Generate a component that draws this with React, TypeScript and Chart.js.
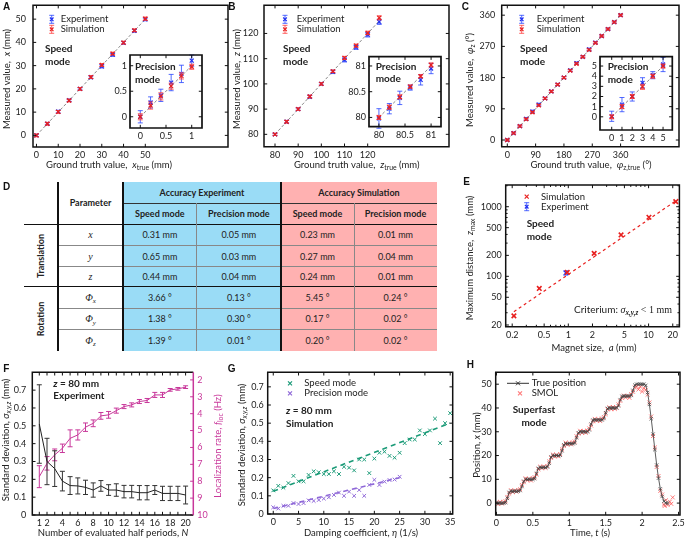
import React, { useEffect, useRef } from 'react';
import { Chart, registerables } from 'chart.js';

Chart.register(...registerables);

const PW = 685;
const PH = 539;
const SANS = 'Lato, "Open Sans", sans-serif';
const SERIF = '"Liberation Serif", "DejaVu Serif", serif';
const LETTER_FONT = '"Liberation Sans", Arial, sans-serif';

// ---------------- colours ----------------
const BLUE = '#1f2ff0';
const BLUE_BAR = 'rgba(40,70,255,0.8)';
const RED = '#e8201f';
const RED_BAR = 'rgba(255,60,60,0.8)';
const GREY = '#8a8a8a';
const MAG = '#c8379a';
const TEAL = '#1b9b78';
const PURP = '#8f68d8';
const SMOLC = 'rgba(255,80,80,0.75)';

// ---------------- data: panel A ----------------
const aTruth = [0, 5, 10, 15, 20, 25, 30, 35, 40, 45, 50];
const aExp = [0.0, 5.0, 10.2, 15.1, 20.0, 25.0, 29.7, 34.7, 39.8, 45.0, 49.9];
const aExpErr = [0.5, 0.5, 0.6, 0.5, 0.5, 0.6, 0.7, 0.7, 0.6, 0.6, 0.6];
const aSim = [0.0, 5.0, 10.1, 15.0, 20.0, 25.1, 30.3, 35.2, 39.9, 45.2, 50.2];
const aSimErr = [0.6, 0.6, 0.6, 0.6, 0.6, 0.6, 0.6, 0.6, 0.6, 0.6, 0.7];
const aRef = [0, 50];
const aTicks = [0, 10, 20, 30, 40, 50];
const aInTruth = [0, 0.2, 0.4, 0.6, 0.8, 1.0];
const aInExp = [0.0, 0.28, 0.42, 0.67, 0.84, 1.1];
const aInExpErr = [0.12, 0.11, 0.12, 0.16, 0.17, 0.11];
const aInSim = [0.0, 0.22, 0.4, 0.6, 0.8, 0.98];
const aInSimErr = [0.06, 0.07, 0.07, 0.06, 0.06, 0.05];
const aInRef = [0, 1];
const aInTicks = [0, 0.5, 1];

// ---------------- data: panel B ----------------
const bTruth = [80, 85, 90, 95, 100, 105, 110, 115, 120, 125];
const bExp = [80, 85, 90, 94.9, 100, 104.8, 109.5, 114.5, 119.5, 124.6];
const bExpErr = [0.4, 0.5, 0.5, 0.6, 0.5, 0.7, 0.8, 0.8, 0.9, 1.0];
const bSim = [80, 85, 90, 95, 100, 105, 110.3, 115.2, 120.2, 126.2];
const bSimErr = [0.4, 0.5, 0.5, 0.5, 0.5, 0.5, 0.6, 0.6, 0.7, 0.8];
const bRef = [80, 125];
const bTicks = [80, 90, 100, 110, 120];
const bInTruth = [80, 80.2, 80.4, 80.6, 80.8, 81];
const bInExp = [79.98, 80.17, 80.38, 80.58, 80.73, 80.95];
const bInExpErr = [0.19, 0.1, 0.13, 0.05, 0.1, 0.1];
const bInSim = [80.0, 80.2, 80.4, 80.6, 80.8, 81.02];
const bInSimErr = [0.04, 0.04, 0.04, 0.03, 0.03, 0.04];
const bInRef = [80, 81];
const bInTicks = [80, 80.5, 81];

// ---------------- data: panel C ----------------
const cTruth = [0, 20, 40, 60, 80, 100, 120, 140, 160, 180, 200, 220, 240, 260, 280, 300, 320, 340, 360];
const cExp = [0, 20, 40, 61, 82, 102, 120, 140, 160, 180, 201, 222, 240, 261, 281, 300, 320, 340, 360];
const cExpErr = [3, 3, 3, 4, 4, 4, 3, 3, 3, 3, 3, 3, 3, 4, 3, 3, 3, 3, 3];
const cSim = [0, 20, 40, 60, 80, 100, 120, 140, 160, 180, 200, 220, 240, 260, 280, 300, 320, 340, 360];
const cSimErr = [2.5, 2.5, 2.5, 2.5, 2.5, 2.5, 2.5, 2.5, 2.5, 2.5, 2.5, 2.5, 2.5, 2.5, 2.5, 2.5, 2.5, 2.5, 2.5];
const cRef = [0, 360];
const cTicks = [0, 90, 180, 270, 360];
const cInTruth = [0, 1, 2, 3, 4, 5];
const cInExp = [0.05, 1.2, 2.0, 3.35, 4.1, 5.15];
const cInExpErr = [0.5, 0.7, 0.45, 0.5, 0.35, 0.7];
const cInSim = [0, 1, 2, 2.95, 4.0, 5.0];
const cInSimErr = [0.2, 0.2, 0.2, 0.25, 0.2, 0.2];
const cInRef = [0, 5];
const cInTicks = [0, 1, 2, 3, 4, 5];

// ---------------- data: panel D (table) ----------------
const paramSym = ['x', 'y', 'z', 'Φ', 'Φ', 'Φ'];
const paramSub = ['', '', '', 'x', 'y', 'z'];
const expSpeed = ['0.31 mm', '0.65 mm', '0.44 mm', '3.66 °', '1.38 °', '1.39 °'];
const expPrec = ['0.05 mm', '0.03 mm', '0.04 mm', '0.13 °', '0.30 °', '0.01 °'];
const simSpeed = ['0.23 mm', '0.27 mm', '0.24 mm', '5.45 °', '0.17 °', '0.20 °'];
const simPrec = ['0.01 mm', '0.04 mm', '0.01 mm', '0.24 °', '0.02 °', '0.02 °'];

// ---------------- data: panel E ----------------
const eSize = [0.21, 0.435, 0.97, 2.1, 4.54, 10.1, 21.8];
const eZmax = [27, 67, 114, 214, 393, 705, 1183];
const eExpSize = [0.93];
const eExpZ = [112];
const eExpErr = [8];
const eFitX = [0.21, 23.4];
const eFitY = [31, 1283];
const eXTicks = [0.2, 0.5, 1, 2, 5, 10, 20];
const eYTicks = [20, 50, 100, 200, 500, 1000];
const eXMinor = [0.3, 0.4, 0.6, 0.7, 0.8, 0.9, 3, 4, 6, 7, 8, 9];
const eYMinor = [30, 40, 60, 70, 80, 90, 300, 400, 600, 700, 800, 900, 2000];

// ---------------- data: panel F ----------------
const fN = [1, 2, 3, 4, 5, 6, 7, 8, 9, 10, 11, 12, 13, 14, 15, 16, 17, 18, 19, 20];
const fStd = [0.51, 0.3, 0.26, 0.19, 0.165, 0.163, 0.155, 0.14, 0.163, 0.14, 0.14, 0.131, 0.131, 0.125, 0.125, 0.14, 0.121, 0.121, 0.121, 0.112];
const fStdErr = [0.22, 0.13, 0.1, 0.055, 0.05, 0.045, 0.04, 0.04, 0.03, 0.03, 0.035, 0.035, 0.035, 0.04, 0.04, 0.025, 0.04, 0.04, 0.04, 0.05];
const fRate = [7.73, 6.94, 6.44, 6.05, 5.46, 5.26, 4.8, 4.57, 4.13, 4.07, 3.82, 3.58, 3.48, 3.28, 3.22, 2.89, 2.89, 2.59, 2.53, 2.43];
const fRateErr = [0.65, 0.4, 0.35, 0.25, 0.5, 0.3, 0.25, 0.2, 0.2, 0.2, 0.15, 0.12, 0.12, 0.12, 0.12, 0.15, 0.15, 0.08, 0.08, 0.08];
const fXTicks = [1, 2, 3, 4, 5, 6, 7, 8, 9, 10, 11, 12, 13, 14, 15, 16, 17, 18, 19, 20];
const fXLabels = ['1', '2', '', '4', '', '6', '', '8', '', '10', '', '12', '', '14', '', '16', '', '18', '', '20'];
const fYTicks = [0, 0.1, 0.2, 0.3, 0.4, 0.5, 0.6, 0.7];
const fY2Ticks = [2, 3, 4, 5, 6, 7, 8, 9, 10];

// ---------------- data: panel G ----------------
const gEta = [0, 1, 2, 3, 4, 5, 6, 7, 8, 9, 10, 11, 12, 13, 14, 15, 16, 17, 18, 19, 20, 21, 22, 23, 24, 25, 26, 27, 28, 29, 30, 31, 32, 33, 34, 35];
const gSpeed = [0.13, 0.155, 0.145, 0.17, 0.21, 0.18, 0.18, 0.215, 0.235, 0.23, 0.22, 0.22, 0.235, 0.22, 0.26, 0.255, 0.24, 0.3, 0.3, 0.225, 0.305, 0.337, 0.343, 0.32, 0.31, 0.337, 0.39, 0.41, 0.41, 0.46, 0.44, 0.46, 0.525, 0.39, 0.5, 0.555];
const gPrecEta = [0, 1, 2, 3, 4, 5, 6, 7, 8, 9, 10, 11, 12, 13, 14, 15, 16, 17, 18, 19, 20, 21, 22, 23, 24, 25];
const gPrec = [0.037, 0.03, 0.045, 0.045, 0.06, 0.055, 0.06, 0.075, 0.072, 0.077, 0.085, 0.092, 0.105, 0.118, 0.1, 0.123, 0.1, 0.132, 0.1, 0.16, 0.188, 0.16, 0.178, 0.187, 0.19, 0.205];
const gSpeedFitX = [0, 35];
const gSpeedFit = [0.125, 0.5];
const gPrecFitX = [0, 25];
const gPrecFit = [0.03, 0.2];
const gXTicks = [0, 5, 10, 15, 20, 25, 30, 35];
const gYTicks = [0, 0.1, 0.2, 0.3, 0.4, 0.5, 0.6, 0.7];

// ---------------- data: panel H ----------------
const hT = [0, 0.025, 0.05, 0.075, 0.1, 0.125, 0.15, 0.175, 0.2, 0.225, 0.25, 0.275, 0.3, 0.325, 0.35, 0.375, 0.4, 0.425, 0.45, 0.475, 0.5, 0.525, 0.55, 0.575, 0.6, 0.625, 0.65, 0.675, 0.7, 0.725, 0.75, 0.775, 0.8, 0.825, 0.85, 0.875, 0.9, 0.925, 0.95, 0.975, 1, 1.025, 1.05, 1.075, 1.1, 1.125, 1.15, 1.175, 1.2, 1.225, 1.25, 1.275, 1.3, 1.325, 1.35, 1.375, 1.4, 1.425, 1.45, 1.475, 1.5, 1.525, 1.55, 1.575, 1.6, 1.625, 1.65, 1.675, 1.7, 1.725, 1.75, 1.775, 1.8, 1.825, 1.85, 1.875, 1.9, 1.925, 1.95, 1.975, 2, 2.025, 2.05, 2.075, 2.1, 2.125, 2.15, 2.175, 2.2, 2.225, 2.25, 2.275, 2.3, 2.325, 2.35];
const hTrue = [0, 0, 0, 0, 0, 0.2, 2.0, 4.5, 5, 5, 5, 5, 5, 5.3, 7.0, 9.2, 10, 10, 10, 10, 10, 10.3, 12.5, 14.6, 15, 15, 15, 15, 15.2, 16.8, 19.4, 20, 20, 20, 20, 20.1, 22.0, 24.5, 25, 25, 25, 25, 25, 25.3, 27.5, 29.6, 30, 30, 30, 30, 30, 30.8, 33.2, 34.9, 35, 35, 35, 35, 35, 35.6, 38.0, 39.8, 40, 40, 40, 40, 40, 40.9, 43.5, 44.9, 45, 45, 45, 45, 45.3, 47.4, 49.6, 50, 50, 50, 50, 50, 49.5, 46.5, 41.5, 35.5, 29.0, 22.5, 16.0, 10.5, 6.0, 2.8, 0.8, 0.1, 0];
const hSmol = [0.3, -0.4, 0.5, -0.2, 0.4, 0.8, 2.6, 4.0, 5.4, 4.6, 5.3, 4.8, 5.5, 5.8, 7.6, 8.8, 10.4, 9.6, 10.2, 9.5, 10.5, 10.9, 12.0, 14.2, 15.3, 14.7, 15.4, 14.8, 15.6, 17.5, 19.0, 20.4, 19.6, 20.3, 19.7, 20.6, 22.6, 24.0, 25.4, 24.6, 25.3, 24.7, 25.5, 25.9, 28.1, 29.2, 30.4, 29.5, 30.3, 29.6, 30.5, 31.4, 32.6, 34.4, 35.4, 34.6, 35.3, 34.5, 35.5, 36.2, 37.4, 39.4, 40.3, 39.5, 40.4, 39.6, 40.2, 41.5, 43.0, 44.3, 45.2, 44.4, 45.1, 44.3, 45.8, 46.8, 48.6, 49.2, 47.8, 48.9, 46.9, 48.3, 47.6, 45.6, 42.3, 36.4, 28.2, 23.4, 15.2, 11.4, 5.2, 3.6, -0.6, 1.2, -0.8];
const hSmolExtraT = [2.31, 2.38, 2.4, 2.42];
const hSmolExtraX = [-1.2, 0.6, -0.3, 2.4];
const hXTicks = [0, 0.5, 1, 1.5, 2, 2.5];
const hYTicks = [0, 10, 20, 30, 40, 50];

// ---------------- helpers ----------------
type Seg = { t: string; i?: boolean; b?: boolean; sub?: boolean; f?: string };
type TextItem = {
  x: number; y: number; segs: Seg[]; size?: number; bold?: boolean;
  align?: 'left' | 'center' | 'right'; rot?: boolean; color?: string;
};
type Sym = { kind: 'err' | 'cross' | 'linecross'; x: number; y: number; color: string; bar?: string };
type AxisSpec = {
  min: number; max: number; ticks: number[]; log?: boolean; labels?: string[];
  color?: string; reverse?: boolean; pad?: number;
};
type PanelSpec = {
  L: number; T: number; R: number; B: number;
  x: AxisSpec; y: AxisSpec; y2?: AxisSpec;
  datasets: any[]; texts?: TextItem[]; syms?: Sym[];
  fill?: boolean; frameW?: number; xMinor?: number[]; yMinor?: number[]; tickLen?: number;
};

const pts = (xs: number[], ys: number[]) => xs.map((x, i) => ({ x, y: ys[i] }));
const T = (t: string, o: Partial<Seg> = {}): Seg => ({ t, ...o });

function segFont(s: Seg, it: TextItem) {
  const base = it.size ?? 9.5;
  const size = s.sub ? base * 0.72 : base;
  return `${s.i ? 'italic ' : ''}${s.b || it.bold ? 'bold ' : ''}${size}px ${s.f ?? SANS}`;
}

function drawRich(ctx: CanvasRenderingContext2D, it: TextItem) {
  ctx.save();
  ctx.translate(it.x, it.y);
  if (it.rot) ctx.rotate(-Math.PI / 2);
  ctx.textBaseline = 'middle';
  ctx.textAlign = 'left';
  ctx.fillStyle = it.color ?? '#222';
  const base = it.size ?? 9.5;
  const widths = it.segs.map((s) => {
    ctx.font = segFont(s, it);
    return ctx.measureText(s.t).width;
  });
  const total = widths.reduce((a, b) => a + b, 0);
  let cx = it.align === 'center' ? -total / 2 : it.align === 'right' ? -total : 0;
  it.segs.forEach((s, k) => {
    ctx.font = segFont(s, it);
    ctx.fillText(s.t, cx, s.sub ? base * 0.32 : 0);
    cx += widths[k];
  });
  ctx.restore();
}

function crossAt(ctx: CanvasRenderingContext2D, x: number, y: number, r: number, color: string, lw = 1) {
  ctx.strokeStyle = color;
  ctx.lineWidth = lw;
  ctx.beginPath();
  ctx.moveTo(x - r, y - r); ctx.lineTo(x + r, y + r);
  ctx.moveTo(x - r, y + r); ctx.lineTo(x + r, y - r);
  ctx.stroke();
}

function drawSym(ctx: CanvasRenderingContext2D, s: Sym) {
  ctx.save();
  if (s.kind === 'err') {
    ctx.strokeStyle = s.bar ?? s.color;
    ctx.lineWidth = 1;
    ctx.beginPath();
    ctx.moveTo(s.x, s.y - 4); ctx.lineTo(s.x, s.y + 4);
    ctx.moveTo(s.x - 2.5, s.y - 4); ctx.lineTo(s.x + 2.5, s.y - 4);
    ctx.moveTo(s.x - 2.5, s.y + 4); ctx.lineTo(s.x + 2.5, s.y + 4);
    ctx.stroke();
    crossAt(ctx, s.x, s.y, 1.8, s.color, 1.2);
  } else if (s.kind === 'cross') {
    crossAt(ctx, s.x, s.y, 2, s.color, 1.2);
  } else {
    ctx.strokeStyle = s.color;
    ctx.lineWidth = 1;
    ctx.beginPath();
    ctx.moveTo(s.x - 11, s.y); ctx.lineTo(s.x + 11, s.y);
    ctx.stroke();
    crossAt(ctx, s.x, s.y, 2, s.color, 1);
  }
  ctx.restore();
}

const errPlugin = {
  id: 'errbars',
  beforeDatasetDraw(chart: any, args: any) {
    const ds: any = chart.data.datasets[args.index];
    if (!ds.err) return;
    const meta = args.meta;
    const ys = chart.scales[meta.yAxisID];
    const ctx: CanvasRenderingContext2D = chart.ctx;
    ctx.save();
    ctx.strokeStyle = ds.errColor ?? ds.borderColor;
    ctx.lineWidth = ds.errWidth ?? 1;
    const cap = ds.errCap ?? 2.5;
    meta.data.forEach((el: any, i: number) => {
      const raw = ds.data[i];
      const e = ds.err[i];
      const y1 = ys.getPixelForValue(raw.y - e);
      const y2 = ys.getPixelForValue(raw.y + e);
      const x = el.x;
      ctx.beginPath();
      ctx.moveTo(x, y1); ctx.lineTo(x, y2);
      ctx.moveTo(x - cap, y1); ctx.lineTo(x + cap, y1);
      ctx.moveTo(x - cap, y2); ctx.lineTo(x + cap, y2);
      ctx.stroke();
    });
    ctx.restore();
  },
};

function framePlugin(p: PanelSpec) {
  return {
    id: 'frame',
    beforeDatasetsDraw(chart: any) {
      if (!p.fill) return;
      const a = chart.chartArea;
      const ctx: CanvasRenderingContext2D = chart.ctx;
      ctx.save();
      ctx.fillStyle = '#fff';
      ctx.fillRect(a.left, a.top, a.right - a.left, a.bottom - a.top);
      ctx.restore();
    },
    afterDraw(chart: any) {
      const ctx: CanvasRenderingContext2D = chart.ctx;
      const a = chart.chartArea;
      const tl = p.tickLen ?? 3.2;
      const seg = (x1: number, y1: number, x2: number, y2: number) => {
        ctx.beginPath(); ctx.moveTo(x1, y1); ctx.lineTo(x2, y2); ctx.stroke();
      };
      ctx.save();
      ctx.lineWidth = 1;
      ctx.strokeStyle = '#111';
      const xs = chart.scales.x;
      const ys = chart.scales.y;
      const xt: [number, number][] = [
        ...p.x.ticks.map((v) => [v, tl] as [number, number]),
        ...(p.xMinor ?? []).map((v) => [v, tl * 0.6] as [number, number]),
      ];
      xt.forEach(([v, len]) => {
        const px = xs.getPixelForValue(v);
        if (px < a.left - 0.5 || px > a.right + 0.5) return;
        seg(px, a.bottom, px, a.bottom - len);
        seg(px, a.top, px, a.top + len);
      });
      const yt: [number, number][] = [
        ...p.y.ticks.map((v) => [v, tl] as [number, number]),
        ...(p.yMinor ?? []).map((v) => [v, tl * 0.6] as [number, number]),
      ];
      yt.forEach(([v, len]) => {
        const py = ys.getPixelForValue(v);
        if (py < a.top - 0.5 || py > a.bottom + 0.5) return;
        seg(a.left, py, a.left + len, py);
        if (!p.y2) seg(a.right, py, a.right - len, py);
      });
      if (p.y2) {
        const y2s = chart.scales.y2;
        ctx.strokeStyle = p.y2.color ?? '#111';
        p.y2.ticks.forEach((v) => {
          const py = y2s.getPixelForValue(v);
          if (py < a.top - 0.5 || py > a.bottom + 0.5) return;
          seg(a.right, py, a.right - tl, py);
        });
      }
      ctx.lineWidth = p.frameW ?? 1.5;
      ctx.strokeStyle = '#111';
      ctx.beginPath();
      ctx.moveTo(a.right, a.top);
      ctx.lineTo(a.left, a.top);
      ctx.lineTo(a.left, a.bottom);
      ctx.lineTo(a.right, a.bottom);
      if (!p.y2) ctx.closePath();
      ctx.stroke();
      if (p.y2) {
        ctx.strokeStyle = p.y2.color ?? '#111';
        seg(a.right, a.top, a.right, a.bottom);
      }
      ctx.restore();
    },
  };
}

function textPlugin(p: PanelSpec) {
  return {
    id: 'texts',
    afterDraw(chart: any) {
      const ctx: CanvasRenderingContext2D = chart.ctx;
      (p.texts ?? []).forEach((it) => drawRich(ctx, it));
      (p.syms ?? []).forEach((s) => drawSym(ctx, s));
    },
  };
}

function axisCfg(a: AxisSpec, pos: 'bottom' | 'left' | 'right', fit: number) {
  const horiz = pos === 'bottom';
  return {
    type: a.log ? 'logarithmic' : 'linear',
    position: pos,
    min: a.min,
    max: a.max,
    reverse: !!a.reverse,
    bounds: 'data',
    grid: { display: false, drawTicks: false },
    border: { display: false },
    ticks: {
      autoSkip: false,
      maxRotation: 0,
      minRotation: 0,
      padding: a.pad ?? (horiz ? 2.5 : 5),
      color: a.color ?? '#222',
      font: { family: SANS, size: 9 },
      callback: (v: number, i: number) => (a.labels ? a.labels[i] : String(v)),
    },
    afterBuildTicks: (s: any) => {
      s.ticks = a.ticks.map((v) => ({ value: v }));
    },
    afterFit: (s: any) => {
      if (horiz) s.height = fit;
      else s.width = fit;
      s.paddingLeft = 0;
      s.paddingRight = 0;
      s.paddingTop = 0;
      s.paddingBottom = 0;
    },
  };
}

function buildChart(canvas: HTMLCanvasElement, p: PanelSpec) {
  // axis boxes must hold the tick labels (Chart.js clips labels to the axis box)
  const XH = Math.min(18, PH - p.B);
  const YW = Math.min(40, p.L);
  const RW = p.y2 ? 22 : 0;
  const scales: any = { x: axisCfg(p.x, 'bottom', XH), y: axisCfg(p.y, 'left', YW) };
  if (p.y2) scales.y2 = axisCfg(p.y2, 'right', RW);
  return new Chart(canvas, {
    type: 'scatter',
    data: { datasets: p.datasets },
    options: {
      responsive: false,
      animation: false,
      devicePixelRatio: 1,
      events: [],
      layout: { padding: { left: p.L - YW, top: p.T, right: PW - p.R - RW, bottom: PH - p.B - XH } },
      plugins: { legend: { display: false }, tooltip: { enabled: false } },
      scales,
    } as any,
    plugins: [errPlugin, framePlugin(p), textPlugin(p)] as any,
  });
}

// dataset builders
const markDs = (data: any[], color: string, bar: string | null, err: number[] | null, r = 2.8, extra: any = {}) => ({
  data,
  showLine: false,
  borderColor: color,
  backgroundColor: color,
  pointStyle: 'crossRot',
  pointRadius: r,
  pointBorderWidth: 1.2,
  pointBorderColor: color,
  err,
  errColor: bar ?? color,
  ...extra,
});
const lineDs = (data: any[], color: string, dash: number[], w = 1, extra: any = {}) => ({
  data,
  showLine: true,
  borderColor: color,
  borderWidth: w,
  borderDash: dash,
  pointRadius: 0,
  ...extra,
});

const legendTexts = (x: number, y1: number, y2: number, t1: string, t2: string): TextItem[] => [
  { x, y: y1, segs: [T(t1)] },
  { x, y: y2, segs: [T(t2)] },
];

// ---------------- panel specs ----------------
const panelA: PanelSpec = {
  L: 33, T: 5, R: 228, B: 147,
  x: { min: -1.6, max: 88, ticks: aTicks },
  y: { min: -5, max: 56, ticks: aTicks, pad: 7 },
  datasets: [
    markDs(pts(aTruth, aSim), RED, RED_BAR, aSimErr),
    markDs(pts(aTruth, aExp), BLUE, BLUE_BAR, aExpErr),
    lineDs(pts(aRef, aRef), GREY, [3, 2]),
  ],
  texts: [
    { x: 109, y: 165, align: 'center', segs: [T('Ground truth value,  '), T('x', { i: true }), T('true', { sub: true }), T(' (mm)')] },
    { x: 7, y: 79, rot: true, align: 'center', segs: [T('Measured value,  '), T('x', { i: true }), T(' (mm)')] },
    ...legendTexts(60.7, 19.3, 29.3, 'Experiment', 'Simulation'),
    { x: 45, y: 49, bold: true, size: 10, segs: [T('Speed')] },
    { x: 45, y: 62, bold: true, size: 10, segs: [T('mode')] },
  ],
  syms: [
    { kind: 'err', x: 51.7, y: 19.3, color: BLUE, bar: BLUE_BAR },
    { kind: 'err', x: 51.7, y: 29.3, color: RED, bar: RED_BAR },
  ],
};

const panelAi: PanelSpec = {
  L: 130, T: 55, R: 202, B: 128, fill: true, frameW: 1.7,
  x: { min: -0.2, max: 1.2, ticks: aInTicks },
  y: { min: -0.22, max: 1.21, ticks: aInTicks, pad: 3 },
  datasets: [
    markDs(pts(aInTruth, aInSim), RED, RED_BAR, aInSimErr),
    markDs(pts(aInTruth, aInExp), BLUE, BLUE_BAR, aInExpErr),
    lineDs(pts(aInRef, aInRef), GREY, [3, 2]),
  ],
  texts: [
    { x: 135, y: 66.7, bold: true, size: 10, segs: [T('Precision')] },
    { x: 135, y: 79.5, bold: true, size: 10, segs: [T('mode')] },
  ],
};

const panelB: PanelSpec = {
  L: 264, T: 5, R: 449, B: 146.7,
  x: { min: 75.25, max: 155.1, ticks: bTicks },
  y: { min: 75.1, max: 131.2, ticks: bTicks, pad: 5.5 },
  datasets: [
    markDs(pts(bTruth, bSim), RED, RED_BAR, bSimErr),
    markDs(pts(bTruth, bExp), BLUE, BLUE_BAR, bExpErr),
    lineDs(pts(bRef, bRef), GREY, [3, 2]),
  ],
  texts: [
    { x: 356.7, y: 165, align: 'center', segs: [T('Ground truth value,  '), T('z', { i: true }), T('true', { sub: true }), T(' (mm)')] },
    { x: 237, y: 79, rot: true, align: 'center', segs: [T('Measured value,  '), T('z', { i: true }), T(' (mm)')] },
    ...legendTexts(296.7, 19.3, 29.3, 'Experiment', 'Simulation'),
    { x: 283, y: 49, bold: true, size: 10, segs: [T('Speed')] },
    { x: 283, y: 62, bold: true, size: 10, segs: [T('mode')] },
  ],
  syms: [
    { kind: 'err', x: 285, y: 19.3, color: BLUE, bar: BLUE_BAR },
    { kind: 'err', x: 285, y: 29.3, color: RED, bar: RED_BAR },
  ],
};

const panelBi: PanelSpec = {
  L: 369, T: 56.7, R: 441, B: 126.7, fill: true, frameW: 1.7,
  x: { min: 79.81, max: 81.19, ticks: bInTicks },
  y: { min: 79.82, max: 81.18, ticks: bInTicks, pad: 3 },
  datasets: [
    markDs(pts(bInTruth, bInSim), RED, RED_BAR, bInSimErr),
    markDs(pts(bInTruth, bInExp), BLUE, BLUE_BAR, bInExpErr),
    lineDs(pts(bInRef, bInRef), GREY, [3, 2]),
  ],
  texts: [
    { x: 375.7, y: 66.7, bold: true, size: 10, segs: [T('Precision')] },
    { x: 375.7, y: 79, bold: true, size: 10, segs: [T('mode')] },
  ],
};

const panelC: PanelSpec = {
  L: 501.7, T: 5, R: 679, B: 146.7,
  x: { min: -17.8, max: 545.6, ticks: cTicks },
  y: { min: -19.3, max: 388.8, ticks: cTicks, pad: 6.5 },
  datasets: [
    markDs(pts(cTruth, cSim), RED, RED_BAR, cSimErr),
    markDs(pts(cTruth, cExp), BLUE, BLUE_BAR, cExpErr),
    lineDs(pts(cRef, cRef), GREY, [3, 2]),
  ],
  texts: [
    { x: 591, y: 165, align: 'center', segs: [T('Ground truth value,  '), T('φ', { i: true }), T('z,true', { sub: true }), T(' (°)')] },
    { x: 470, y: 80, rot: true, align: 'center', segs: [T('Measured value,  '), T('φ', { i: true }), T('z', { sub: true }), T(' (°)')] },
    ...legendTexts(536.7, 19.3, 29.3, 'Experiment', 'Simulation'),
    { x: 520, y: 49, bold: true, size: 10, segs: [T('Speed')] },
    { x: 520, y: 62, bold: true, size: 10, segs: [T('mode')] },
  ],
  syms: [
    { kind: 'err', x: 521.7, y: 19.3, color: BLUE, bar: BLUE_BAR },
    { kind: 'err', x: 521.7, y: 29.3, color: RED, bar: RED_BAR },
  ],
};

const panelCi: PanelSpec = {
  L: 600, T: 56.7, R: 672.3, B: 130, fill: true, frameW: 1.7,
  x: { min: -1.14, max: 5.9, ticks: cInTicks },
  y: { min: -1.3, max: 5.92, ticks: cInTicks, pad: 3 },
  datasets: [
    markDs(pts(cInTruth, cInSim), RED, RED_BAR, cInSimErr),
    markDs(pts(cInTruth, cInExp), BLUE, BLUE_BAR, cInExpErr),
    lineDs(pts(cInRef, cInRef), GREY, [3, 2]),
  ],
  texts: [
    { x: 607.7, y: 66.7, bold: true, size: 10, segs: [T('Precision')] },
    { x: 607.7, y: 79.5, bold: true, size: 10, segs: [T('mode')] },
  ],
};

const panelE: PanelSpec = {
  L: 505.7, T: 185, R: 682.7, B: 326.7,
  x: { min: 0.166, max: 24.2, ticks: eXTicks, log: true, pad: 3 },
  y: { min: 18.9, max: 2050, ticks: eYTicks, log: true, pad: 4 },
  xMinor: eXMinor,
  yMinor: eYMinor,
  datasets: [
    markDs(pts(eSize, eZmax), RED, null, null, 3.2, { pointBorderWidth: 1.6 }),
    markDs(pts(eExpSize, eExpZ), BLUE, BLUE_BAR, eExpErr),
    lineDs(pts(eFitX, eFitY), RED, [3, 3], 1.2),
  ],
  texts: [
    { x: 594, y: 348, align: 'center', segs: [T('Magnet size,  '), T('a', { i: true }), T(' (mm)')] },
    { x: 470, y: 258, rot: true, align: 'center', segs: [T('Maximum distance,  '), T('z', { i: true }), T('max', { sub: true }), T(' (mm)')] },
    ...legendTexts(541, 196.7, 206.7, 'Simulation', 'Experiment'),
    { x: 526.7, y: 223.3, bold: true, size: 10, segs: [T('Speed')] },
    { x: 526.7, y: 236.7, bold: true, size: 10, segs: [T('mode')] },
    {
      x: 672, y: 310, align: 'right', size: 10,
      segs: [T('Criterium: '), T('σ', { i: true, f: SERIF }), T('x,y,z', { sub: true, i: true, b: true, f: SERIF }), T(' < 1 mm', { f: SERIF })],
    },
  ],
  syms: [
    { kind: 'cross', x: 526.7, y: 196.7, color: RED },
    { kind: 'err', x: 526.7, y: 206.7, color: BLUE, bar: BLUE_BAR },
  ],
};

const panelF: PanelSpec = {
  L: 32.3, T: 372.3, R: 193.3, B: 515,
  x: { min: 0.09, max: 21, ticks: fXTicks, labels: fXLabels },
  y: { min: 0, max: 0.8, ticks: fYTicks, pad: 6 },
  y2: { min: 1.55, max: 10, ticks: fY2Ticks, reverse: true, color: MAG, pad: 4 },
  datasets: [
    lineDs(pts(fN, fStd), '#222', [], 1, { err: fStdErr, errColor: '#333' }),
    lineDs(pts(fN, fRate), MAG, [], 1, { yAxisID: 'y2', err: fRateErr, errColor: MAG }),
  ],
  texts: [
    { x: 113, y: 533, align: 'center', segs: [T('Number of evaluated half periods, '), T('N', { i: true })] },
    { x: 5.5, y: 440, rot: true, align: 'center', segs: [T('Standard deviation, '), T('σ', { i: true }), T('x,y,z', { sub: true, i: true }), T(' (mm)')] },
    { x: 218, y: 446, rot: true, align: 'center', color: MAG, segs: [T('Localization rate, '), T('f', { i: true }), T('loc', { sub: true }), T(' (Hz)')] },
    { x: 53.3, y: 383.3, bold: true, size: 10, segs: [T('z', { i: true }), T(' = 80 mm')] },
    { x: 53.3, y: 396, bold: true, size: 10, segs: [T('Experiment')] },
  ],
};

const panelG: PanelSpec = {
  L: 267.7, T: 372.3, R: 452.7, B: 514,
  x: { min: -1.1, max: 35.5, ticks: gXTicks },
  y: { min: 0, max: 0.78, ticks: gYTicks, pad: 4 },
  datasets: [
    markDs(pts(gEta, gSpeed), TEAL, null, null, 2.6, { pointBorderWidth: 1 }),
    markDs(pts(gPrecEta, gPrec), PURP, null, null, 2.6, { pointBorderWidth: 1 }),
    lineDs(pts(gSpeedFitX, gSpeedFit), TEAL, [5, 4], 1.6),
    lineDs(pts(gPrecFitX, gPrecFit), PURP, [5, 4], 1.6),
  ],
  texts: [
    { x: 361, y: 533, align: 'center', segs: [T('Damping coefficient, '), T('η', { i: true }), T(' (1/s)')] },
    { x: 241.7, y: 445, rot: true, align: 'center', segs: [T('Standard deviation, '), T('σ', { i: true }), T('x,y,z', { sub: true, i: true }), T(' (mm)')] },
    ...legendTexts(304.3, 383.3, 393.3, 'Speed mode', 'Precision mode'),
    { x: 286, y: 411, bold: true, size: 10, segs: [T('z', { i: true }), T(' = 80 mm')] },
    { x: 286, y: 423.3, bold: true, size: 10, segs: [T('Simulation')] },
  ],
  syms: [
    { kind: 'cross', x: 290, y: 383.3, color: TEAL },
    { kind: 'cross', x: 290, y: 393.3, color: PURP },
  ],
};

const panelH: PanelSpec = {
  L: 495.7, T: 372.3, R: 682, B: 515,
  x: { min: -0.01, max: 2.52, ticks: hXTicks },
  y: { min: -5, max: 55, ticks: hYTicks, pad: 4 },
  datasets: [
    lineDs(pts(hT, hTrue), '#333', [], 0.8, { pointRadius: 2.4, pointStyle: 'crossRot', pointBorderColor: '#444', pointBorderWidth: 0.8 }),
    markDs(pts([...hT, ...hSmolExtraT], [...hSmol, ...hSmolExtraX]), SMOLC, null, null, 2.8, { pointBorderWidth: 1 }),
  ],
  texts: [
    { x: 590, y: 533, align: 'center', segs: [T('Time, '), T('t', { i: true }), T(' (s)')] },
    { x: 476.7, y: 445, rot: true, align: 'center', segs: [T('Position, '), T('x', { i: true }), T(' (mm)')] },
    ...legendTexts(531.7, 383.3, 393.3, 'True position', 'SMOL'),
    { x: 534, y: 410, bold: true, size: 10, align: 'center', segs: [T('Superfast')] },
    { x: 534, y: 423, bold: true, size: 10, align: 'center', segs: [T('mode')] },
  ],
  syms: [
    { kind: 'linecross', x: 518, y: 383.3, color: '#333' },
    { kind: 'cross', x: 520, y: 393.3, color: SMOLC },
  ],
};

const PANELS: PanelSpec[] = [panelA, panelAi, panelB, panelBi, panelC, panelCi, panelE, panelF, panelG, panelH];

// ---------------- panel letters ----------------
const LETTERS: [string, number, number][] = [
  ['A', 3, 3.3], ['B', 228.3, 3.3], ['C', 461.7, 3.3], ['D', 3, 183.3],
  ['E', 463.3, 178.3], ['F', 3.3, 365], ['G', 227.7, 365], ['H', 466.7, 361.7],
];

// ---------------- table D ----------------
const COLS = [24, 58, 123, 196.7, 281, 354, 437];
const ROWS = [181.7, 203.3, 224.3, 245.7, 266.7, 286.7, 308.3, 329.7, 350.7];
const TBLUE = '#9adcf6';
const TPINK = '#ffb1b1';

function Table() {
  const els: React.ReactNode[] = [];
  const top = ROWS[0];
  const bottom = ROWS[ROWS.length - 1];
  const box = (key: string, l: number, t: number, w: number, h: number, bg: string) =>
    els.push(<div key={key} style={{ position: 'absolute', left: l, top: t, width: w, height: h, background: bg }} />);
  const cell = (key: string, l: number, r: number, t: number, b: number, content: React.ReactNode, bold = false) =>
    els.push(
      <div
        key={key}
        style={{
          position: 'absolute', left: l, top: t, width: r - l, height: b - t,
          display: 'flex', alignItems: 'center', justifyContent: 'center',
          fontFamily: SANS, fontSize: 9, fontWeight: bold ? 700 : 400, color: '#222', whiteSpace: 'nowrap',
        }}
      >
        {content}
      </div>,
    );
  box('fb', COLS[2], top, COLS[4] - COLS[2], bottom - top, TBLUE);
  box('fp', COLS[4], top, COLS[6] - COLS[4], bottom - top, TPINK);
  cell('hp', COLS[1], COLS[2], ROWS[0], ROWS[2], 'Parameter', true);
  cell('he', COLS[2], COLS[4], ROWS[0], ROWS[1], 'Accuracy Experiment', true);
  cell('hs', COLS[4], COLS[6], ROWS[0], ROWS[1], 'Accuracy Simulation', true);
  const sub = ['Speed mode', 'Precision mode', 'Speed mode', 'Precision mode'];
  sub.forEach((s, k) => cell('h2' + k, COLS[2 + k], COLS[3 + k], ROWS[1], ROWS[2], s, true));
  const cols = [expSpeed, expPrec, simSpeed, simPrec];
  paramSym.forEach((p, r) => {
    cell(
      'p' + r, COLS[1], COLS[2], ROWS[2 + r], ROWS[3 + r],
      <span style={{ fontStyle: 'italic', fontFamily: SERIF, fontSize: 10 }}>
        {p}
        {paramSub[r] ? <span style={{ fontSize: 7, position: 'relative', top: 2.5 }}>{paramSub[r]}</span> : null}
      </span>,
    );
    cols.forEach((c, k) => cell('v' + r + k, COLS[2 + k], COLS[3 + k], ROWS[2 + r], ROWS[3 + r], c[r]));
  });
  const group = (key: string, text: string, cy: number) =>
    els.push(
      <div
        key={key}
        style={{
          position: 'absolute', left: (COLS[0] + COLS[1]) / 2 - 40, top: cy - 6, width: 80, height: 12,
          transform: 'rotate(-90deg)', textAlign: 'center', lineHeight: '12px',
          fontFamily: SANS, fontSize: 9, fontWeight: 700, color: '#222',
        }}
      >
        {text}
      </div>,
    );
  group('gt', 'Translation', (ROWS[2] + ROWS[5]) / 2);
  group('gr', 'Rotation', (ROWS[5] + ROWS[8]) / 2);
  const hline = (key: string, l: number, r: number, y: number, w: number, c: string) =>
    box(key, l, y - w / 2, r - l, w, c);
  const vline = (key: string, x: number, t: number, b: number, w: number, c: string) =>
    box(key, x - w / 2, t, w, b - t, c);
  hline('l1', COLS[2], COLS[6], ROWS[1], 1, '#333');
  hline('l2', COLS[0], COLS[6], ROWS[2], 1.6, '#111');
  hline('l3', COLS[0], COLS[6], ROWS[5], 1.6, '#111');
  [3, 4, 6, 7].forEach((ri) => hline('lg' + ri, COLS[1], COLS[6], ROWS[ri], 0.8, '#888'));
  vline('v1', COLS[1], top, bottom, 1.6, '#111');
  vline('v2', COLS[2], top, bottom, 1.6, '#111');
  vline('v4', COLS[4], top, bottom, 1.6, '#111');
  vline('v3', COLS[3], ROWS[1], bottom, 0.8, '#888');
  vline('v5', COLS[5], ROWS[1], bottom, 0.8, '#888');
  return <>{els}</>;
}

export default function App() {
  const refs = useRef<(HTMLCanvasElement | null)[]>([]);
  useEffect(() => {
    Chart.defaults.font.family = SANS;
    const charts = PANELS.map((p, i) => buildChart(refs.current[i] as HTMLCanvasElement, p));
    return () => charts.forEach((c) => c.destroy());
  }, []);
  return (
    <div style={{ position: 'absolute', left: 0, top: 0, width: PW, height: PH, background: '#fff', overflow: 'hidden' }}>
      <Table />
      {PANELS.map((_, i) => (
        <canvas
          key={i}
          ref={(el) => {
            refs.current[i] = el;
          }}
          width={PW}
          height={PH}
          style={{ position: 'absolute', left: 0, top: 0, width: PW, height: PH, pointerEvents: 'none' }}
        />
      ))}
      {LETTERS.map(([t, x, y]) => (
        <div
          key={t}
          style={{
            position: 'absolute', left: x, top: y - 1.3, fontFamily: LETTER_FONT, fontWeight: 700,
            fontSize: 10, lineHeight: '10px', color: '#111',
          }}
        >
          {t}
        </div>
      ))}
    </div>
  );
}
